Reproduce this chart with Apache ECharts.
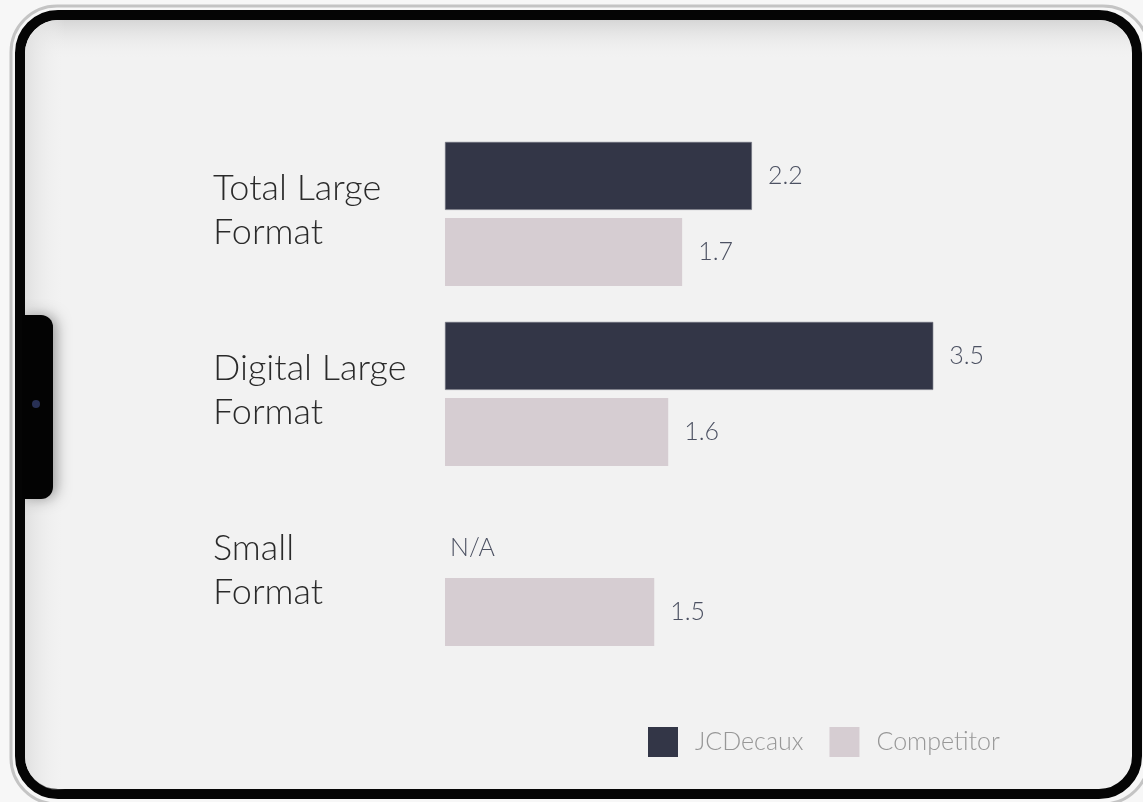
<!DOCTYPE html>
<html>
<head>
<meta charset="utf-8">
<script src="https://cdn.jsdelivr.net/npm/echarts@6/dist/echarts.min.js"></script>
<style>
  html, body { margin: 0; padding: 0; background: #f7f7f7; }
  #chart { width: 1143px; height: 802px; }
</style>
</head>
<body>
<div id="chart"></div>
<script>
// data
const categories = ['Total Large\nFormat', 'Digital Large\nFormat', 'Small\nFormat'];
const jcdecaux = [2.2, 3.5, null];   // null = N/A
const competitor = [1.7, 1.6, 1.5];

const FONT = 'Lato, "Open Sans", sans-serif';

const chart = echarts.init(document.getElementById('chart'));

// the "N/A" entry is drawn as a zero-length bar with its own label
const jcdData = jcdecaux.map((v) => v == null
  ? { value: 0, itemStyle: { borderWidth: 0 }, label: { formatter: 'N/A', distance: 5, offset: [0, 12] } }
  : v);

const valueLabel = {
  show: true,
  position: 'right',
  distance: 16,
  fontFamily: FONT,
  fontWeight: 300,
  fontSize: 25,
  color: '#4c5162'
};

const option = {
  animation: false,
  graphic: [
    // tablet frame
    { type: 'rect', z: -10, shape: { x: 11, y: 6, width: 1138, height: 798, r: 46 },
      style: { fill: 'none', stroke: '#c4c4c4', lineWidth: 3 } },
    { type: 'rect', z: -9, shape: { x: 20, y: 15, width: 1117, height: 779, r: 38 },
      style: { fill: '#f2f2f2', stroke: '#050505', lineWidth: 10 } },
    { type: 'rect', z: -8, shape: { x: 25, y: 20, width: 1107, height: 40, r: [34, 34, 0, 0] },
      style: { fill: { type: 'linear', x: 0, y: 0, x2: 0, y2: 1,
        colorStops: [{ offset: 0, color: '#d6d6d6' }, { offset: 1, color: 'rgba(242,242,242,0)' }] } } },
    { type: 'rect', z: -8, shape: { x: 25, y: 20, width: 40, height: 770, r: [34, 0, 0, 34] },
      style: { fill: { type: 'linear', x: 0, y: 0, x2: 1, y2: 0,
        colorStops: [{ offset: 0, color: '#e0e0e0' }, { offset: 1, color: 'rgba(242,242,242,0)' }] } } },
    // side camera bump
    { type: 'rect', z: -7, shape: { x: 22, y: 315, width: 31, height: 184, r: [0, 12, 12, 0] },
      style: { fill: '#030303', shadowBlur: 14, shadowColor: 'rgba(0,0,0,0.35)', shadowOffsetX: 4 } },
    { type: 'circle', z: -6, shape: { cx: 36, cy: 404, r: 4 },
      style: { fill: '#283054' } }
  ],
  legend: {
    left: 648,
    top: 727,
    padding: 0,
    icon: 'rect',
    itemWidth: 30,
    itemHeight: 30,
    itemGap: 26,
    itemStyle: { borderWidth: 0 },
    textStyle: { fontFamily: FONT, fontWeight: 300, fontSize: 25, color: '#979797', padding: [0, 0, 0, 12] },
    data: ['JCDecaux', 'Competitor']
  },
  grid: { left: 445, top: 124, width: 558, height: 540 },
  xAxis: { type: 'value', min: 0, max: 4, show: false },
  yAxis: {
    type: 'category',
    data: categories,
    inverse: true,
    axisLine: { show: false },
    axisTick: { show: false },
    splitLine: { show: false },
    axisLabel: {
      align: 'left',
      margin: 232,
      // a thin empty last line nudges the two text lines up a little
      formatter: (v) => v.split('\n').map((s) => '{t|' + s + '}').join('\n') + '\n{g| }',
      rich: {
        t: { fontFamily: FONT, fontWeight: 300, fontSize: 36, lineHeight: 44, color: '#2a2a2a' },
        g: { fontSize: 2, lineHeight: 8 }
      }
    }
  },
  series: [
    {
      name: 'JCDecaux',
      type: 'bar',
      data: jcdData,
      barWidth: 68,
      barGap: '12%',
      itemStyle: { color: '#333647', borderColor: '#70727e', borderWidth: 0.6 },
      label: valueLabel
    },
    {
      name: 'Competitor',
      type: 'bar',
      data: competitor,
      barWidth: 68,
      barGap: '12%',
      itemStyle: { color: '#d6cdd2' },
      label: valueLabel
    }
  ]
};

chart.setOption(option);
</script>
</body>
</html>
